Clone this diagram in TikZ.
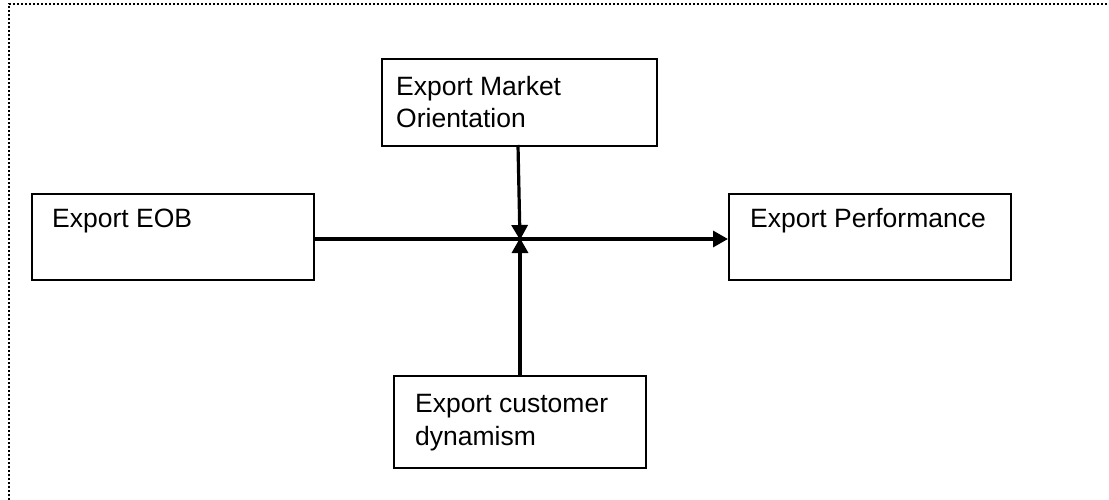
\documentclass[tikz,border=0pt]{standalone}
\usepackage{fontspec}
\setmainfont{Liberation Sans}
\usetikzlibrary{arrows.meta}
\begin{document}
\begin{tikzpicture}[x=1pt,y=-1pt,
  box/.style={draw, line width=2.2pt, rectangle, inner sep=0pt, anchor=north west},
  lbl/.style={anchor=base west, inner sep=0pt, align=left,
    font=\fontsize{26.5}{32.5}\selectfont},
  link/.style={line width=3.2pt, -{Triangle[length=15pt,width=16pt]}},
  frame/.style={line width=2.4pt, dash pattern=on 2.2pt off 1.8pt}]
\useasboundingbox (0,0) rectangle (1109,500);
% dotted page frame (top and left edges)
\draw[frame] (9,500) -- (9,4) -- (1108,4);
% boxes
\node[box, minimum width=282pt, minimum height=86pt] (eob) at (31,193) {};
\node[box, minimum width=275pt, minimum height=87pt] (mkt) at (381,58) {};
\node[box, minimum width=282pt, minimum height=86pt] (perf) at (728,193) {};
\node[box, minimum width=252pt, minimum height=92pt] (cust) at (393,375) {};
% labels (multi-line labels are anchored on their last line)
\node[lbl] (teob) at (52,227) {Export EOB};
\node[lbl] (tmkt) at (396,128) {Export Market\\Orientation};
\node[lbl] (tperf) at (750,227) {Export Performance};
\node[lbl] (tcust) at (415,445) {Export customer\\dynamism};
% connectors
\coordinate (j) at (520,239);
\coordinate (mo) at (518,145);
\draw[link] (eob.east |- j) -- (perf.west |- j);
\draw[link] (mo) -- ([yshift=-1pt]j);
\draw[link] (cust.north -| j) -- ([yshift=1pt]j);
\end{tikzpicture}
\end{document}
